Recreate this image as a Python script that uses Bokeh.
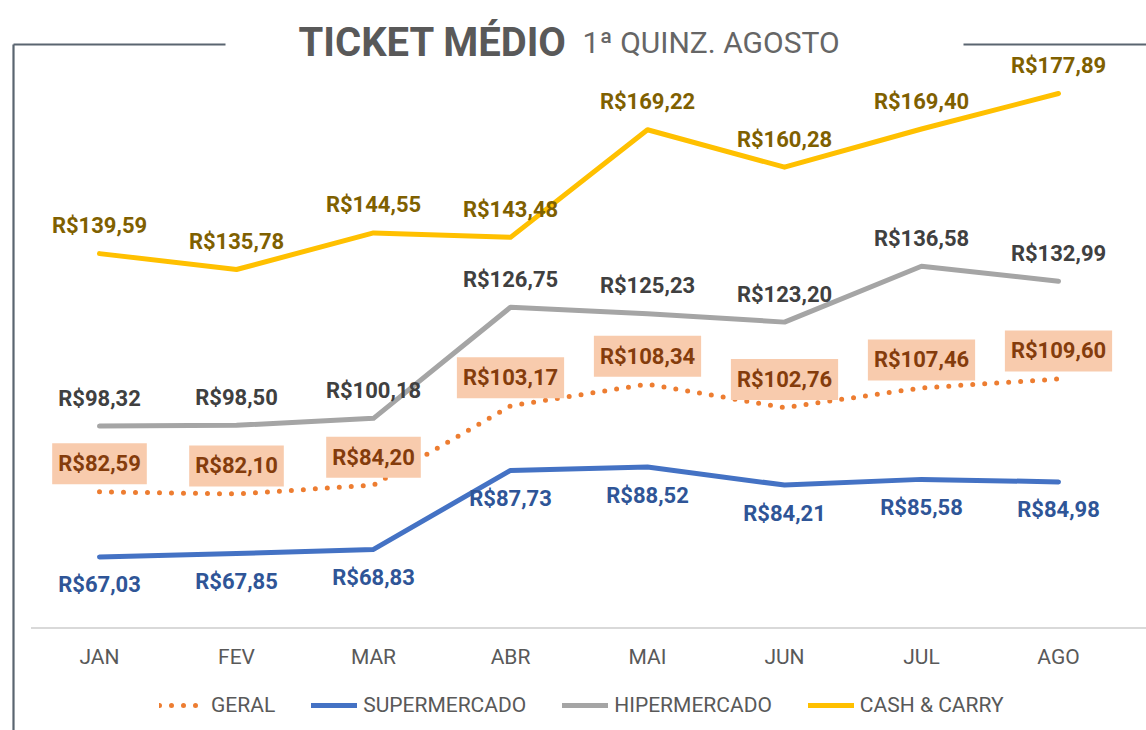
from bokeh.plotting import figure
from bokeh.models import (Range1d, FixedTicker, Legend, LegendItem, Label, ColumnDataSource)
from bokeh.core.properties import value
from bokeh.embed import file_html
from bokeh.resources import INLINE

# ---- data ----
months = ["JAN", "FEV", "MAR", "ABR", "MAI", "JUN", "JUL", "AGO"]
geral = [82.59, 82.10, 84.20, 103.17, 108.34, 102.76, 107.46, 109.60]
supermercado = [67.03, 67.85, 68.83, 87.73, 88.52, 84.21, 85.58, 84.98]
hipermercado = [98.32, 98.50, 100.18, 126.75, 125.23, 123.20, 136.58, 132.99]
cash_carry = [139.59, 135.78, 144.55, 143.48, 169.22, 160.28, 169.40, 177.89]
series_names = ["GERAL", "SUPERMERCADO", "HIPERMERCADO", "CASH & CARRY"]

def fmt(v):
    return "R$" + ("%.2f" % v).replace(".", ",")

xs = list(range(len(months)))

# ---- layout constants (pixels -> data) ----
W, H = 1146, 730
X0_PX, DX_PX = 99, 137.0          # JAN position, category step
Y50_PX, DY_PX = 627.6, 4.18       # y=50 position from top, px per unit

def xd(px):
    return (px - X0_PX) / DX_PX

def yd(py):
    return 50 + (Y50_PX - py) / DY_PX

x_start, x_end = (0 - X0_PX) / DX_PX, (W - X0_PX) / DX_PX
y_start, y_end = 50 - (H - Y50_PX) / DY_PX, 50 + Y50_PX / DY_PX

p = figure(width=W, height=H, output_backend="svg", toolbar_location=None,
           x_range=Range1d(x_start, x_end), y_range=Range1d(y_start, y_end),
           min_border=0, min_border_left=0, min_border_right=0,
           min_border_top=0, min_border_bottom=0)
p.outline_line_color = None
p.grid.visible = False
p.yaxis.visible = False
p.background_fill_color = "white"

ax = p.xaxis[0]
ax.fixed_location = 50
ax.ticker = FixedTicker(ticks=xs)
ax.major_label_overrides = {i: m for i, m in enumerate(months)}
ax.major_tick_line_color = None
ax.minor_tick_line_color = None
ax.axis_line_color = None
ax.major_label_standoff = 11
ax.major_label_text_font = "Roboto"
ax.major_label_text_font_size = "21px"
ax.major_label_text_color = "#595959"

# axis baseline & frame decorations
p.segment(x0=[-0.5], y0=[50], x1=[x_end], y1=[50], line_color="#D9D9D9", line_width=2)
frame_col = "#5A6570"
p.segment(x0=[xd(13), xd(13), xd(963)], y0=[yd(44), yd(44), yd(44)],
          x1=[xd(13), xd(225), xd(1146)], y1=[y_start, yd(44), yd(44)],
          line_color=frame_col, line_width=2.2)

# ---- series ----
r_geral = p.line(xs, geral, line_color="#ED7D31", line_width=5, line_dash="0 12", line_cap="round")
r_sup = p.line(xs, supermercado, line_color="#4472C4", line_width=5, line_join="round", line_cap="round")
r_hip = p.line(xs, hipermercado, line_color="#A5A5A5", line_width=5, line_join="round", line_cap="round")
r_cash = p.line(xs, cash_carry, line_color="#FFC000", line_width=5, line_join="round", line_cap="round")

lab_font = value("Roboto")

def labels(vals, color, dy, **kw):
    src = ColumnDataSource(dict(x=xs, y=vals, t=[fmt(v) for v in vals]))
    p.text(x="x", y="y", text="t", source=src, y_offset=dy, text_align="center",
           text_baseline="middle", text_font=lab_font, text_font_style="bold",
           text_font_size="22px", text_color=color, **kw)

labels(cash_carry, "#7F6000", -28)
labels(hipermercado, "#404040", -28)
labels(supermercado, "#2F5597", 28)
labels(geral, "#843C0C", -28, background_fill_color="#F8CBAD",
       padding=dict(left=6, right=6, top=8, bottom=8))

# ---- title ----
p.add_layout(Label(x=298, y=H - 42, x_units="screen", y_units="screen",
                   text="TICKET MÉDIO", text_font="Roboto", text_font_style="bold",
                   text_font_size="40px", text_color="#595959", text_baseline="alphabetic"))
p.add_layout(Label(x=582, y=H - 42, x_units="screen", y_units="screen",
                   text="1ª QUINZ. AGOSTO", text_font="Roboto",
                   text_font_size="30px", text_color="#666666", text_baseline="alphabetic"))

# ---- legend ----
legend = Legend(items=[LegendItem(label=series_names[0], renderers=[r_geral]),
                       LegendItem(label=series_names[1], renderers=[r_sup]),
                       LegendItem(label=series_names[2], renderers=[r_hip]),
                       LegendItem(label=series_names[3], renderers=[r_cash])],
                orientation="horizontal", location=(159, 13))
legend.label_text_font = "Roboto"
legend.label_text_font_size = "21px"
legend.label_text_color = "#595959"
legend.glyph_width = 46
legend.label_standoff = 6
legend.spacing = 36
legend.padding = 5
legend.margin = 0
legend.border_line_color = None
legend.background_fill_alpha = 0
p.add_layout(legend)

open("out.html", "w").write(file_html(p, INLINE))
